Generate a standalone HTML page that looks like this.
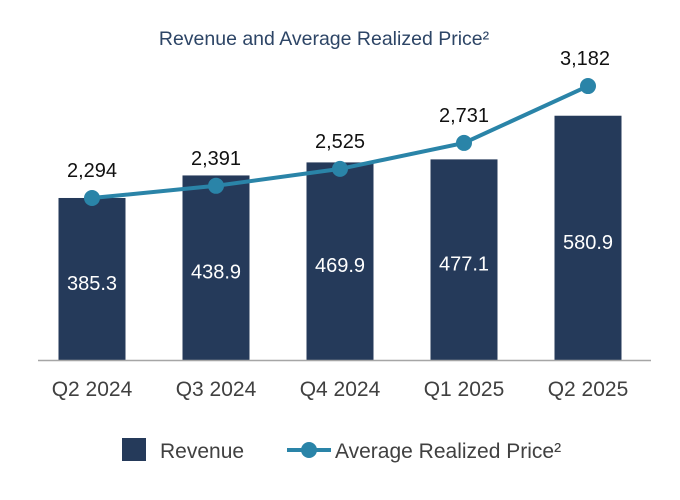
<!DOCTYPE html>
<html><head><meta charset="utf-8"><style>
body{margin:0;background:#fff;}
svg{display:block;font-family:"Liberation Sans",Arial,sans-serif;}
</style></head><body>
<svg id="chart" width="680" height="500" viewBox="0 0 680 500">
<text x="324" y="45" text-anchor="middle" font-size="19.5" fill="#2d4566">Revenue and Average Realized Price²</text>
<g id="bars"></g><g id="line"></g>
<line x1="38" y1="360.5" x2="651" y2="360.5" stroke="#a6a6a6" stroke-width="1.5"/>
<g id="xlabels"></g>
<g>
<rect x="122" y="438" width="24" height="23" fill="#253a5a"/>
<text x="160" y="458" font-size="21" fill="#404040">Revenue</text>
<line x1="287" y1="450" x2="331" y2="450" stroke="#2a84a8" stroke-width="4"/>
<circle cx="309" cy="450" r="8" fill="#2a84a8"/>
<text x="335" y="458" font-size="21" fill="#404040">Average Realized Price²</text>
</g>
</svg>
<script>
const categories=["Q2 2024","Q3 2024","Q4 2024","Q1 2025","Q2 2025"];
const revenue=[385.3,438.9,469.9,477.1,580.9];
const price=[2294,2391,2525,2731,3182];
const NS="http://www.w3.org/2000/svg";
const base=360;
function xc(i){return 92+i*124;}
function yBar(v){return base-v*0.4205;}
function yPrice(v){return 487.3-v*0.1261;}
function mk(t,a,p,txt){const e=document.createElementNS(NS,t);for(const k in a)e.setAttribute(k,a[k]);if(txt!==undefined)e.textContent=txt;p.appendChild(e);return e;}
const gb=document.getElementById('bars'),gl=document.getElementById('line'),gx=document.getElementById('xlabels');
revenue.forEach((v,i)=>{
 const y=yBar(v);
 const r=mk('rect',{x:xc(i)-33.5,y:y,width:67,height:base-y,fill:'#253a5a'},gb);
 
 
 const t=mk('text',{x:xc(i),y:(y+base)/2+11,'text-anchor':'middle','font-size':'20',fill:'#fff'},gb,v.toFixed(1));
 
 
 const c=mk('text',{x:xc(i),y:396,'text-anchor':'middle','font-size':'21',fill:'#404040'},gx,categories[i]);
 
 
});
const pts=price.map((v,i)=>xc(i)+','+yPrice(v)).join(' ');
const pl=mk('polyline',{points:pts,fill:'none',stroke:'#2a84a8','stroke-width':'4'},gl);


price.forEach((v,i)=>{
 const y=yPrice(v);
 const c=mk('circle',{cx:xc(i),cy:y,r:8,fill:'#2a84a8'},gl);
 
 
 const t=mk('text',{x:xc(i)+(i==4?-3:0),y:y-21,'text-anchor':'middle','font-size':'20',fill:'#111'},gl,v.toLocaleString('en-US'));
 
 
});
</script>
</body></html>
